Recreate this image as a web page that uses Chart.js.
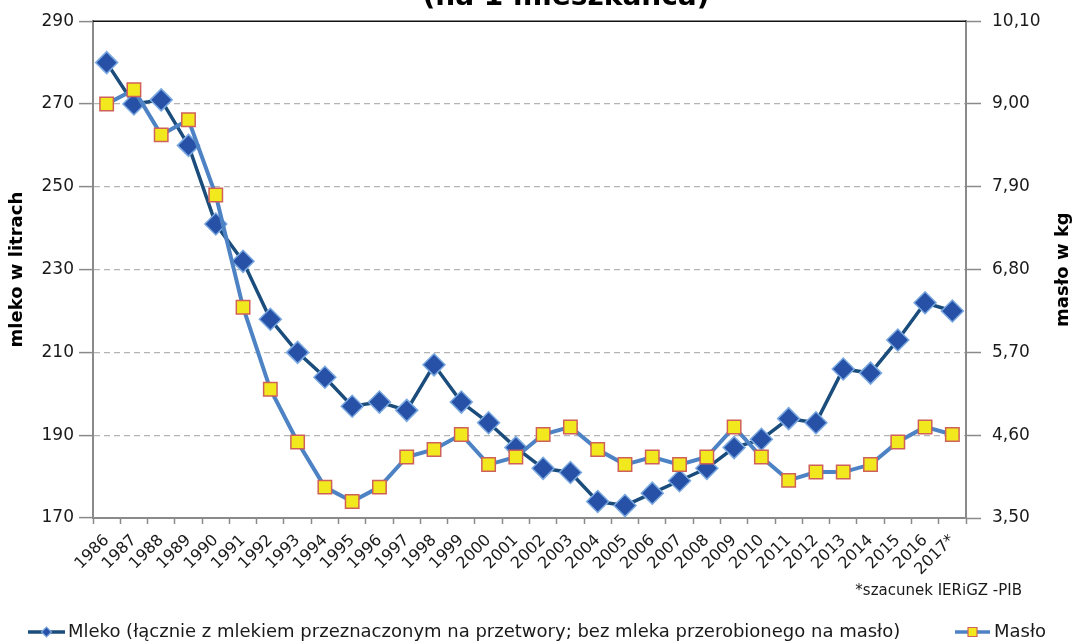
<!DOCTYPE html>
<html><head><meta charset="utf-8">
<script src="https://cdn.jsdelivr.net/npm/chart.js@4.4.0/dist/chart.umd.min.js"></script>
<style>html,body{margin:0;padding:0;background:#fff;overflow:hidden}#wrap{position:relative;width:1074px;height:644px}</style>
</head><body><div id="wrap"><canvas id="c" width="1074" height="644"></canvas></div>
<script>
const years = ['1986','1987','1988','1989','1990','1991','1992','1993','1994','1995','1996','1997','1998','1999','2000','2001','2002','2003','2004','2005','2006','2007','2008','2009','2010','2011','2012','2013','2014','2015','2016','2017*'];
const mleko = [280,270,271,260,241,232,218,210,204,197,198,196,207,198,193,187,182,181,174,173,176,179,182,187,189,194,193,206,205,213,222,220];
const maslo = [9.00,9.19,8.59,8.79,7.79,6.30,5.21,4.51,3.91,3.72,3.91,4.31,4.41,4.61,4.21,4.31,4.61,4.71,4.41,4.21,4.31,4.21,4.31,4.71,4.31,4.00,4.11,4.11,4.21,4.51,4.71,4.61];
const leftTicks = [170,190,210,230,250,270,290];
const rightTicks = [3.5,4.6,5.7,6.8,7.9,9.0,10.1];
const titleText = '(na 1 mieszkańca)';
const leftTitle = 'mleko w litrach';
const rightTitle = 'masło w kg';
const footnote = '*szacunek IERiGZ -PIB';
const seriesNames = ['Mleko (łącznie z mlekiem przeznaczonym na przetwory; bez mleka przerobionego na masło)', 'Masło'];

const FONT = 'DejaVu Sans';
Chart.defaults.font.family = FONT;
Chart.defaults.color = '#1a1a1a';

const C_MLEKO_LINE = '#1a4c7c';
const C_MLEKO_FILL = '#2651a6';
const C_MLEKO_EDGE = '#7aa8e0';
const C_MASLO_LINE = '#4d83c4';
const C_MASLO_FILL = '#f1e91e';
const C_MASLO_EDGE = '#d0605a';
const AXIS = '#8a8a8a';

function drawMarker(ctx, type, x, y, r) {
  ctx.save();
  ctx.beginPath();
  if (type === 'd') {
    ctx.moveTo(x - r, y); ctx.lineTo(x, y - r); ctx.lineTo(x + r, y); ctx.lineTo(x, y + r); ctx.closePath();
    ctx.fillStyle = C_MLEKO_FILL; ctx.strokeStyle = C_MLEKO_EDGE;
  } else {
    ctx.rect(x - r, y - r, 2 * r, 2 * r);
    ctx.fillStyle = C_MASLO_FILL; ctx.strokeStyle = C_MASLO_EDGE;
  }
  ctx.fill(); ctx.lineWidth = 1.2; ctx.stroke();
  ctx.restore();
}

const extras = {
  id: 'extras',
  beforeDatasetsDraw(chart) {
    const {ctx, chartArea: a} = chart;
    ctx.save();
    ctx.strokeStyle = '#111'; ctx.lineWidth = 1.5;
    ctx.beginPath(); ctx.moveTo(a.left, a.top); ctx.lineTo(a.right, a.top); ctx.stroke();
    ctx.restore();
  },
  afterDraw(chart) {
    const {ctx, chartArea: a} = chart;
    ctx.save();
    // title (its first line lies above the picture)
    ctx.fillStyle = '#000';
    ctx.font = 'bold 28px "' + FONT + '"';
    ctx.textAlign = 'center'; ctx.textBaseline = 'alphabetic';
    ctx.fillText(titleText, 566, 5);
    // right axis title (reads bottom to top)
    ctx.save();
    ctx.translate(1063, (a.top + a.bottom) / 2);
    ctx.rotate(-Math.PI / 2);
    ctx.font = 'bold 18px "' + FONT + '"';
    ctx.textAlign = 'center'; ctx.textBaseline = 'middle';
    ctx.fillText(rightTitle, 0, 0);
    ctx.restore();
    // footnote
    ctx.font = '15px "' + FONT + '"';
    ctx.fillStyle = '#1a1a1a';
    ctx.textAlign = 'right'; ctx.textBaseline = 'middle';
    ctx.fillText(footnote, 1022, 591);
    // legend
    const ly = 632;
    ctx.font = '18px "' + FONT + '"';
    ctx.textAlign = 'left'; ctx.textBaseline = 'middle';
    ctx.lineWidth = 3.5;
    ctx.strokeStyle = C_MLEKO_LINE;
    ctx.beginPath(); ctx.moveTo(28, ly); ctx.lineTo(65, ly); ctx.stroke();
    drawMarker(ctx, 'd', 46.5, ly, 5);
    ctx.fillStyle = '#1a1a1a';
    ctx.fillText(seriesNames[0], 68, ly);
    ctx.strokeStyle = C_MASLO_LINE; ctx.lineWidth = 3.5;
    ctx.beginPath(); ctx.moveTo(955, ly); ctx.lineTo(990, ly); ctx.stroke();
    drawMarker(ctx, 's', 972.5, ly, 4.5);
    ctx.fillStyle = '#1a1a1a';
    ctx.fillText(seriesNames[1], 994, ly);
    ctx.restore();
  }
};

new Chart(document.getElementById('c'), {
  type: 'line',
  data: {
    labels: years,
    datasets: [
      {
        label: seriesNames[0], data: mleko, yAxisID: 'y', order: 1,
        borderColor: C_MLEKO_LINE, borderWidth: 3.5, tension: 0,
        pointStyle: 'rectRot', pointRadius: 11, pointHoverRadius: 11,
        pointBackgroundColor: C_MLEKO_FILL, pointBorderColor: C_MLEKO_EDGE, pointBorderWidth: 1.5
      },
      {
        label: seriesNames[1], data: maslo, yAxisID: 'y1', order: 0,
        borderColor: C_MASLO_LINE, borderWidth: 4, tension: 0,
        pointStyle: 'rect', pointRadius: 9.5, pointHoverRadius: 9.5,
        pointBackgroundColor: C_MASLO_FILL, pointBorderColor: C_MASLO_EDGE, pointBorderWidth: 1.5
      }
    ]
  },
  options: {
    responsive: false, animation: false, devicePixelRatio: 1,
    layout: {padding: {top: 20, bottom: 0, left: 0, right: 0}},
    plugins: {legend: {display: false}, tooltip: {enabled: false}, title: {display: false}},
    scales: {
      x: {
        type: 'category', offset: true,
        grid: {offset: true, drawOnChartArea: false, drawTicks: true, tickLength: 6, tickColor: AXIS, tickWidth: 1.5},
        border: {display: true, color: AXIS, width: 2},
        ticks: {autoSkip: false, minRotation: 45, maxRotation: 45, padding: 7, font: {size: 16}, color: '#1a1a1a'},
        afterFit(s) { s.height = 126; }
      },
      y: {
        position: 'left', min: 170, max: 290,
        afterBuildTicks(s) { s.ticks = leftTicks.map(v => ({value: v})); },
        grid: {
          color: c => (c.tick && c.tick.value === 290) ? 'rgba(0,0,0,0)' : '#b4b4b4',
          lineWidth: 1.2, drawTicks: true, tickLength: 14, tickColor: AXIS, tickWidth: 1.5
        },
        border: {display: true, color: AXIS, width: 2, dash: [6, 4]},
        ticks: {font: {size: 17}, color: '#1a1a1a', padding: 5},
        title: {display: true, text: leftTitle, font: {size: 18, weight: 'bold'}, color: '#000', padding: {top: 7, bottom: 0}},
        afterFit(s) { s.width = 93; }
      },
      y1: {
        position: 'right', min: 3.5, max: 10.1,
        afterBuildTicks(s) { s.ticks = rightTicks.map(v => ({value: v})); },
        grid: {drawOnChartArea: false, drawTicks: true, tickLength: 15, tickColor: AXIS, tickWidth: 1.5},
        border: {display: true, color: AXIS, width: 2},
        ticks: {font: {size: 17}, color: '#1a1a1a', padding: 11, callback: v => Number(v).toFixed(2).replace('.', ',')},
        title: {display: false, text: rightTitle},
        afterFit(s) { s.width = 108; }
      }
    }
  },
  plugins: [extras]
});
</script>
</body></html>
